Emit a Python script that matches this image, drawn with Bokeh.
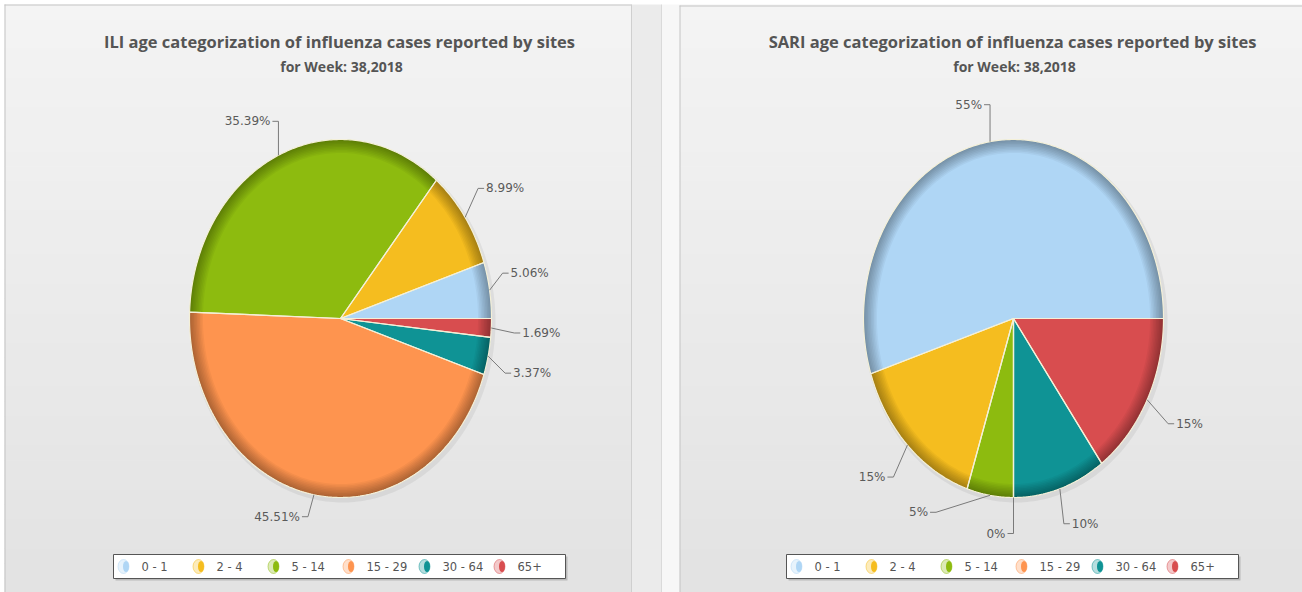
import numpy as np
from bokeh.plotting import figure
from bokeh.models import Range1d
from bokeh.core.properties import value
from bokeh.embed import file_html
from bokeh.resources import INLINE

# ---------------- data ----------------
categories = ["0 - 1", "2 - 4", "5 - 14", "15 - 29", "30 - 64", "65+"]
ili_values = [5.06, 8.99, 35.39, 45.51, 3.37, 1.69]
sari_values = [55, 15, 5, 0, 10, 15]
colors = ["#afd6f5", "#f5bd1f", "#8dbb0f", "#fe944f", "#0f9395", "#d84d4f"]
ili_title = "ILI age categorization of influenza cases reported by sites"
sari_title = "SARI age categorization of influenza cases reported by sites"
subtitle = "for Week: 38,2018"

# ---------------- layout ----------------
W, H = 1302, 592
p = figure(width=W, height=H, x_range=Range1d(0, W), y_range=Range1d(H, 0),
           x_axis_type=None, y_axis_type=None, toolbar_location=None,
           output_backend="svg", min_border=0, outline_line_color=None,
           background_fill_color="white", border_fill_color="white")

# panel backgrounds (vertical gradient made of strips)
ytop, ybot = 4, H
n = 40
edges = np.linspace(ytop, ybot, n + 1)
c0 = np.array([0xf4, 0xf4, 0xf4])
c1 = np.array([0xe3, 0xe3, 0xe3])
strip_cols = []
for k in range(n):
    f = k / (n - 1)
    c = (c0 * (1 - f) + c1 * f).astype(int)
    strip_cols.append("#%02x%02x%02x" % tuple(c))
for x0, x1 in [(4, 631), (679, W)]:
    p.quad(left=x0, right=x1, top=edges[:-1], bottom=edges[1:] + 0.6,
           fill_color=strip_cols, line_color=None)
# gap between panels
p.quad(left=631, right=661, top=4, bottom=ybot, fill_color="#ebebeb", line_color=None)
p.quad(left=661, right=679, top=4, bottom=ybot, fill_color="#f7f7f7", line_color=None)
p.multi_line(xs=[[4.5, 4.5], [4, 631], [631, 631], [661, 661], [679.5, 679.5], [679, W]],
             ys=[[4, ybot], [4.5, 4.5], [4, ybot], [4, ybot], [5, ybot], [5.5, 5.5]],
             line_color=["#c4c4c4", "#c4c4c4", "#cfcfcf", "#dadada", "#c4c4c4", "#c4c4c4"],
             line_width=1)

TFONT = value("Open Sans")
LFONT = value("DejaVu Sans")


def draw_chart(cx, cy, rx, ry, vals, offsets, fmt, title, tcx, legend_left):
    total = float(sum(vals))
    start = 0.0
    xs, ys, mids = [], [], []
    for v in vals:
        a0 = start
        a1 = start + v / total * 2 * np.pi
        t = np.linspace(a0, a1, max(2, int((a1 - a0) * 80) + 2))
        xs.append([cx] + list(cx + rx * np.cos(t)))
        ys.append([cy] + list(cy - ry * np.sin(t)))
        mids.append((a0 + a1) / 2)
        start = a1

    # soft shadow
    T = np.linspace(0, 2 * np.pi, 300)
    p.patch(cx + 2 + (rx + 2) * np.cos(T), cy + 3 - (ry + 2) * np.sin(T),
            fill_color="#000000", fill_alpha=0.06, line_color=None)

    p.patches(xs, ys, fill_color=colors, line_color=None)

    # rim shading rings
    rxs, rys = [], []
    for k in range(1, 10):
        d = k * 1.5
        ox = cx + rx * np.cos(T)
        oy = cy - ry * np.sin(T)
        ix = cx + (rx - d) * np.cos(T[::-1])
        iy = cy - (ry - d) * np.sin(T[::-1])
        rxs.append(list(ox) + list(ix))
        rys.append(list(oy) + list(iy))
    p.patches(rxs, rys, fill_color="#000000", fill_alpha=0.038, line_color=None)

    p.patches(xs, ys, fill_alpha=0, line_color="#f4f0d8", line_width=1.2)

    # labels with leader lines
    lx, ly = [], []
    rtx, rty, rtt = [], [], []
    ltx, lty, ltt = [], [], []
    for v, m, (dx, dy) in zip(vals, mids, offsets):
        ex, ey = cx + rx * np.cos(m), cy - ry * np.sin(m)
        bx, by = ex + dx, ey + dy
        s = 1 if np.cos(m) > 1e-9 else -1
        hx = bx + 6 * s
        lx.append([ex, bx, hx])
        ly.append([ey, by, by])
        txt = fmt(v)
        if s > 0:
            rtx.append(hx + 2); rty.append(by); rtt.append(txt)
        else:
            ltx.append(hx - 2); lty.append(by); ltt.append(txt)
    p.multi_line(lx, ly, line_color="#7a7a7a", line_width=1)
    p.text(rtx, rty, text=rtt, text_align="left", text_baseline="middle",
           text_font=LFONT, text_font_size="12px", text_color="#5a5a5a")
    p.text(ltx, lty, text=ltt, text_align="right", text_baseline="middle",
           text_font=LFONT, text_font_size="12px", text_color="#5a5a5a")

    # titles
    p.text([tcx], [41], text=[title], text_align="center", text_baseline="middle",
           text_font=TFONT, text_font_size="16.5px", text_font_style="bold",
           text_color="#555555")
    p.text([tcx + 2], [66], text=[subtitle], text_align="center", text_baseline="middle",
           text_font=TFONT, text_font_size="14px", text_font_style="bold",
           text_color="#555555")

    # legend
    L, R, T0, B0 = legend_left, legend_left + 452, 554, 578
    p.quad(left=L + 2, right=R + 2, top=T0 + 2, bottom=B0 + 2, fill_color="#000000",
           fill_alpha=0.18, line_color=None)
    p.quad(left=L, right=R, top=T0, bottom=B0, fill_color="white", line_color="#555555",
           line_width=1)
    item_dx = [10, 85, 160, 235, 311, 386]
    icx = [L + d for d in item_dx]
    iy = [(T0 + B0) / 2] * len(categories)
    p.ellipse(icx, iy, width=11, height=14, fill_color=colors, fill_alpha=0.3,
              line_color=colors, line_alpha=0.5)
    p.ellipse([x + 2.5 for x in icx], iy, width=6, height=11, fill_color=colors,
              line_color=None)
    p.text([x + 18 for x in icx], iy, text=categories, text_align="left",
           text_baseline="middle", text_font=LFONT, text_font_size="11.5px",
           text_color="#555555")


ili_offsets = [(13, -17), (13, -29), (0, -34), (-6, 22), (17, 17), (23, 5)]
sari_offsets = [(0, -37), (-14, 32), (-54, 17), (0, 36), (4, 35), (21, 24)]

draw_chart(340, 318, 151, 179, ili_values, ili_offsets, lambda v: "%.2f%%" % v,
           ili_title, 339, 113)
draw_chart(1013, 318, 150, 179, sari_values, sari_offsets, lambda v: "%g%%" % v,
           sari_title, 1012, 786)

open("out.html", "w").write(file_html(p, INLINE))
